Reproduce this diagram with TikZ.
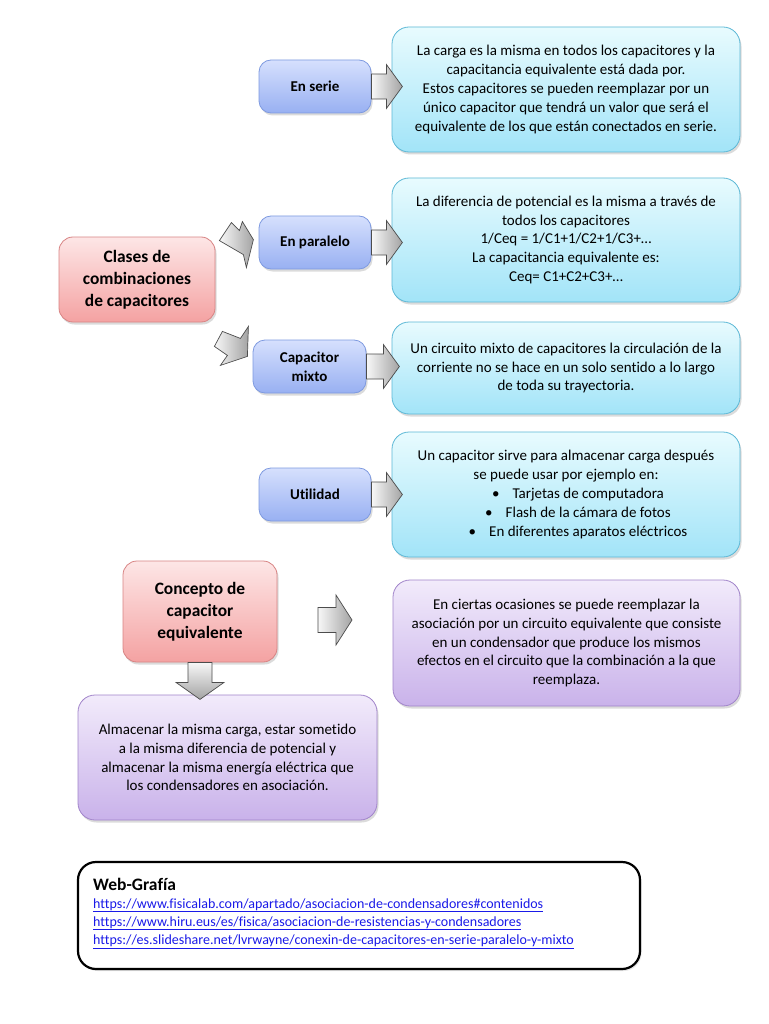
\documentclass[tikz,border=0pt]{standalone}
\usepackage{fontspec}
\setmainfont{Carlito}[Ligatures=NoCommon]
\usetikzlibrary{shadows,calc}
\definecolor{bluetop}{HTML}{D6E0FD}
\definecolor{bluebot}{HTML}{98B0F2}
\definecolor{blueline}{HTML}{7E9AE0}
\definecolor{cyantop}{HTML}{E8FBFE}
\definecolor{cyanbot}{HTML}{A2E4F8}
\definecolor{cyanline}{HTML}{5CB8D6}
\definecolor{pinktop}{HTML}{FDE6E6}
\definecolor{pinkbot}{HTML}{F4A2A2}
\definecolor{pinkline}{HTML}{D88484}
\definecolor{purptop}{HTML}{F2EBFB}
\definecolor{purpbot}{HTML}{C9B2EA}
\definecolor{purpline}{HTML}{A184CA}
\definecolor{linkblue}{HTML}{1A1AE8}
\newcommand\bodytxt{\fontsize{15}{18.8}\selectfont}
\newcommand\bigtxt{\fontsize{17.4}{21.8}\selectfont\bfseries}
\tikzset{
  box/.style={rounded corners=12pt, draw, line width=0.8pt, align=center, inner sep=0pt,
    drop shadow={opacity=0.28, shadow xshift=1.5pt, shadow yshift=-2.5pt}},
  bigbox/.style={box, rounded corners=17pt, font=\bodytxt},
  bluebox/.style={box, draw=blueline, top color=bluetop, bottom color=bluebot,
    font=\bodytxt\bfseries, minimum width=112pt, minimum height=53pt},
  cyanbox/.style={bigbox, draw=cyanline, top color=cyantop, bottom color=cyanbot,
    minimum width=348pt},
  pinkbox/.style={box, rounded corners=14pt, draw=pinkline, top color=pinktop, bottom color=pinkbot,
    font=\bigtxt},
  purpbox/.style={bigbox, draw=purpline, top color=purptop, bottom color=purpbot,
    minimum height=125pt},
  arrowsty/.style={draw=black!70, line width=0.7pt, line join=miter,
    left color=black!3, right color=black!36},
  linktxt/.style={anchor=base west, inner sep=0pt, text=linkblue, font=\fontsize{14}{18}\selectfont},
}
% block arrow: [extra options]{start}{length}{shaft half}{head half}{head length}
\newcommand\blockarr[6][]{%
  \shade[arrowsty, shift={(#2)}, #1] (0,-#4) -- ({#3-#6},-#4) -- ({#3-#6},-#5) -- (#3,0)
    -- ({#3-#6},#5) -- ({#3-#6},#4) -- (0,#4) -- cycle;}
\begin{document}
\begin{tikzpicture}[x=1pt,y=-1pt]
\useasboundingbox (0,0) rectangle (768,1024);
\fill[white] (0,0) rectangle (768,1024);

% row 1
\node[bluebox] (serie) at (315,86.5) {En serie};
\node[cyanbox, minimum height=125pt] (serieT) at (566,89.5)
 {La carga es la misma en todos los capacitores y la\\
  capacitancia equivalente está dada por.\\
  Estos capacitores se pueden reemplazar por un\\
  único capacitor que tendrá un valor que será el\\
  equivalente de los que están conectados en serie.};
\blockarr{serie.east}{31}{12.5}{22}{16}

% row 2
\node[pinkbox, minimum width=156pt, minimum height=85pt] (clases) at (137,279.5)
 {Clases de\\combinaciones\\de capacitores};
\node[bluebox] (paralelo) at (315,242.5) {En paralelo};
\node[cyanbox, minimum height=124pt] (paraleloT) at (566,240)
 {La diferencia de potencial es la misma a través de\\
  todos los capacitores\\
  1/Ceq = 1/C1+1/C2+1/C3+…\\
  La capacitancia equivalente es:\\
  Ceq= C1+C2+C3+…};
\blockarr{paralelo.east}{31}{12.5}{22}{16}
\shade[arrowsty, shift={(clases.north east)}]
  (4,4) -- (16,-14) -- (24,-6) -- (27,-15) -- (38,3) -- (31,31) -- (28,18) -- cycle;

% row 3
\node[bluebox, minimum width=113pt] (mixto) at (309.5,366.5) {Capacitor\\mixto};
\node[cyanbox, minimum height=92pt] (mixtoT) at (566,368)
 {Un circuito mixto de capacitores la circulación de la\\
  corriente no se hace en un solo sentido a lo largo\\
  de toda su trayectoria.};
\blockarr{mixto.east}{33}{12.5}{22}{16}
\shade[arrowsty, shift={(clases.south east)}]
  (-1,24) -- (7,9) -- (25,16) -- (33,4) -- (32,34) -- (5,43) -- (12,33) -- cycle;

% row 4
\node[bluebox] (utilidad) at (315,494.5) {Utilidad};
\node[cyanbox, minimum height=125pt] (utilidadT) at (566,494.5)
 {Un capacitor sirve para almacenar carga después\\
  se puede usar por ejemplo en:\\
  \hspace*{24pt}\textbullet\hspace{13pt}Tarjetas de computadora\\
  \hspace*{24pt}\textbullet\hspace{13pt}Flash de la cámara de fotos\\
  \hspace*{24pt}\textbullet\hspace{13pt}En diferentes aparatos eléctricos};
\blockarr{utilidad.east}{31}{12.5}{22}{16}

% concepto
\node[pinkbox, minimum width=154pt, minimum height=101pt] (concepto) at (200,611.5)
 {Concepto de\\capacitor\\equivalente};
\node[purpbox, minimum width=347pt, minimum height=126pt] (equiv) at (566.5,643)
 {En ciertas ocasiones se puede reemplazar la\\
  asociación por un circuito equivalente que consiste\\
  en un condensador que produce los mismos\\
  efectos en el circuito que la combinación a la que\\
  reemplaza.};
\coordinate (aestart) at (318,620);
\blockarr{aestart}{34}{12.5}{25}{16}
\node[purpbox, minimum width=299pt] (almac) at (227.5,757.5)
 {Almacenar la misma carga, estar sometido\\
  a la misma diferencia de potencial y\\
  almacenar la misma energía eléctrica que\\
  los condensadores en asociación.};
\blockarr[rotate=-90, top color=black!3, bottom color=black!36]{concepto.south}{37}{12}{24}{17}

% web-grafia
\node[draw=black, line width=2.2pt, rounded corners=18pt, minimum width=562pt, minimum height=107pt,
  fill=white, drop shadow={opacity=0.2, shadow xshift=1.5pt, shadow yshift=-2pt}] (web) at (359,915.5) {};
\node[anchor=base west, inner sep=0pt, font=\fontsize{17.5}{20}\selectfont\bfseries] (wt) at (93,890) {Web-Grafía};
\node[linktxt] (l1) at (93,908) {\underline{https://www.fisicalab.com/apartado/asociacion-de-condensadores\#contenidos}};
\node[linktxt] (l2) at (93,926) {\underline{https://www.hiru.eus/es/fisica/asociacion-de-resistencias-y-condensadores}};
\node[linktxt] (l3) at (93,944.5) {\underline{https://es.slideshare.net/lvrwayne/conexin-de-capacitores-en-serie-paralelo-y-mixto}};
\end{tikzpicture}
\end{document}
